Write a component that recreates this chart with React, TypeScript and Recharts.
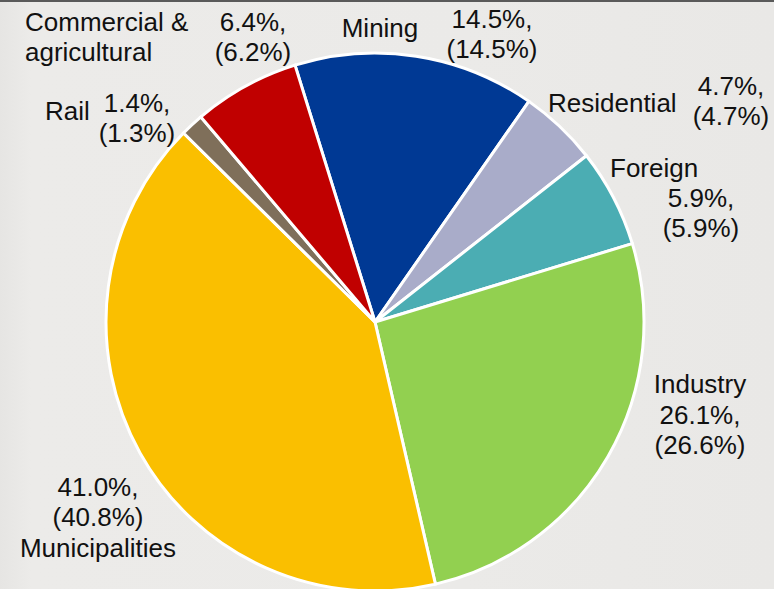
import React from "react";
import { Cell, Pie, PieChart } from "recharts";

// Sector shares, current year and (previous year)
const sectors = ["Mining", "Residential", "Foreign", "Industry", "Municipalities", "Rail", "Commercial & agricultural"];
const shareNow = [14.5, 4.7, 5.9, 26.1, 41.0, 1.4, 6.4];
const sharePrev = [14.5, 4.7, 5.9, 26.6, 40.8, 1.3, 6.2];
const nameLines = [["Mining"], ["Residential"], ["Foreign"], ["Industry"], ["Municipalities"], ["Rail"], ["Commercial &", "agricultural"]];

const COLORS = ["#003994", "#a9acc9", "#4badb3", "#92d050", "#fabf00", "#7f6f5a", "#c00000"];

// label placement, offsets from the pie centre
const LAYOUT = [
  { nx: 5, ny: -285, na: "middle", px: 117, py: -294, pa: "middle" },
  { nx: 173, ny: -210, na: "start", px: 356, py: -227, pa: "middle" },
  { nx: 235, ny: -145, na: "start", px: 326, py: -115, pa: "middle" },
  { nx: 325, ny: 71, na: "middle", px: 325, py: 102, pa: "middle" },
  { nx: -277, ny: 235, na: "middle", px: -277, py: 174, pa: "middle" },
  { nx: -330, ny: -202, na: "start", px: -238, py: -210, pa: "middle" },
  { nx: -350, ny: -291, na: "start", px: -122, py: -291, pa: "middle" },
];

const LINE = 30;

const data = sectors.map((name, i) => ({
  name,
  value: shareNow[i],
  prev: sharePrev[i],
}));

const renderLabel = (props: any) => {
  const { cx, cy, index } = props;
  const l = LAYOUT[index];
  const pct = [`${shareNow[index].toFixed(1)}%,`, `(${sharePrev[index].toFixed(1)}%)`];
  return (
    <g key={`lbl-${index}`} fontFamily="'Liberation Sans', Arial, sans-serif" fontSize={26} fill="#111">
      {nameLines[index].map((t, k) => (
        <text key={`n${k}`} x={cx + l.nx} y={cy + l.ny + k * LINE} textAnchor={l.na}>
          {t}
        </text>
      ))}
      {pct.map((t, k) => (
        <text key={`p${k}`} x={cx + l.px} y={cy + l.py + k * LINE} textAnchor={l.pa}>
          {t}
        </text>
      ))}
    </g>
  );
};

export default function App() {
  React.useEffect(() => {
    document.body.style.margin = "0";
  }, []);

  return (
    <div
      style={{
        width: 774,
        height: 589,
        background: "linear-gradient(90deg, #e6e5e3 0%, #ecebe9 4%, #ebeae8 60%, #e9e8e6 100%)",
        borderTop: "2px solid #5a5a5a",
        boxSizing: "border-box",
        overflow: "hidden",
      }}
    >
      <PieChart width={774} height={587} margin={{ top: 0, right: 0, bottom: 0, left: 0 }}>
        <Pie
          data={data}
          dataKey="value"
          nameKey="name"
          cx={375}
          cy={320}
          outerRadius={269}
          startAngle={107.3}
          endAngle={-252.7}
          stroke="#ffffff"
          strokeWidth={3}
          label={renderLabel}
          labelLine={false}
          isAnimationActive={false}
        >
          {data.map((entry, index) => (
            <Cell key={`cell-${index}`} fill={COLORS[index % COLORS.length]} />
          ))}
        </Pie>
      </PieChart>
    </div>
  );
}
